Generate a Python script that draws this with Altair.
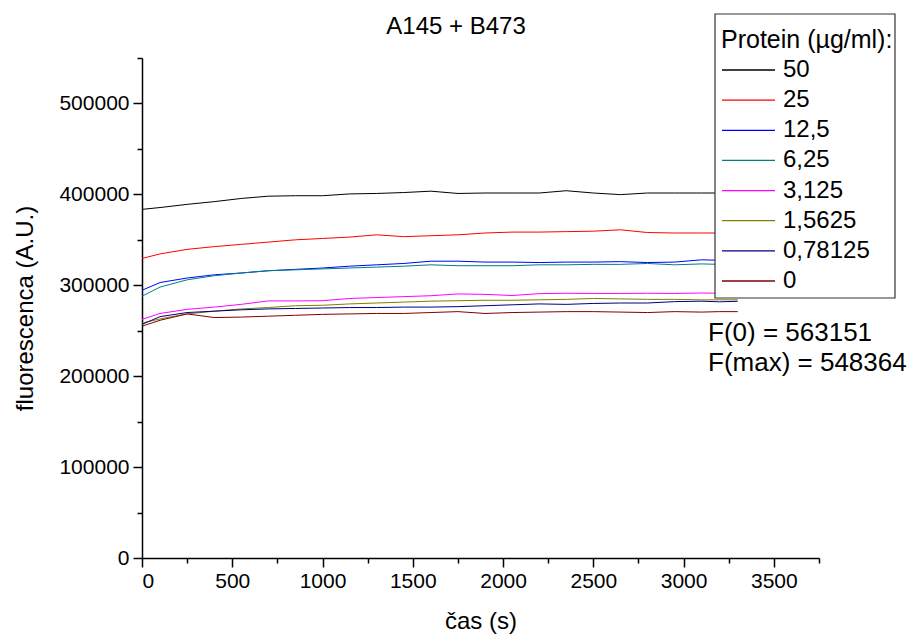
import altair as alt
import pandas as pd

times = [0, 100, 250, 400, 550, 700, 850, 1000, 1150, 1300, 1450, 1600,
         1750, 1900, 2050, 2200, 2350, 2500, 2650, 2800, 2950, 3100, 3200, 3300]

series_labels = ["50", "25", "12,5", "6,25", "3,125", "1,5625", "0,78125", "0"]
series_colors = ["#000000", "#FF0000", "#0000FF", "#008080", "#FF00FF", "#808000", "#000080", "#800000"]

v_50 = [383500, 385500, 389000, 392000, 395500, 398000, 398500, 398500, 400500, 401000, 402000, 403500,
        401000, 401500, 401500, 401500, 404000, 401500, 399700, 401500, 401500, 401500, 401500, 401500]
v_25 = [329500, 334500, 339500, 342500, 345000, 347500, 350000, 351500, 353000, 355500, 353500, 354500,
        355500, 357500, 358500, 358500, 359000, 359500, 361000, 358000, 357500, 357500, 357500, 357500]
v_12_5 = [294500, 303000, 308000, 311500, 313500, 316000, 317500, 319000, 321000, 322500, 324000, 326500,
          326500, 325500, 325500, 325000, 325500, 325500, 326000, 325000, 325500, 328000, 327500, 327500]
v_6_25 = [288000, 298000, 306000, 310500, 313500, 316000, 317000, 318000, 319000, 320000, 321000, 322500,
          321500, 321500, 321500, 322500, 322500, 323000, 323000, 324000, 322500, 323500, 323000, 323000]
v_3_125 = [262500, 269000, 273500, 276000, 279000, 282800, 282800, 283000, 285500, 286500, 287500, 288500,
           290500, 290000, 288700, 290800, 291200, 291000, 291000, 291200, 291000, 291500, 291200, 291200]
v_1_5625 = [258500, 263000, 268500, 271500, 274000, 275500, 277500, 278000, 279500, 280500, 281500, 282500,
            283000, 283500, 283500, 284000, 284500, 285500, 285000, 284500, 284500, 284000, 284000, 284000]
v_0_78125 = [257000, 265500, 270000, 271500, 273000, 274000, 274500, 275000, 275500, 275500, 276000, 276000,
             276500, 277500, 278500, 279500, 279000, 280000, 280500, 280500, 282000, 282500, 281800, 282400]
v_0 = [255000, 261500, 268500, 264500, 265000, 266000, 267000, 268000, 268500, 269000, 269000, 270000,
       271000, 269000, 270000, 270500, 271000, 271000, 270500, 270000, 271000, 270500, 271000, 271000]

all_values = [v_50, v_25, v_12_5, v_6_25, v_3_125, v_1_5625, v_0_78125, v_0]

rows = []
for lab, vals in zip(series_labels, all_values):
    for t, v in zip(times, vals):
        rows.append({"t": t, "F": v, "protein": lab})
df = pd.DataFrame(rows)

legend_df = pd.DataFrame({"protein": series_labels, "idx": list(range(len(series_labels)))})
annot = pd.DataFrame({"txt": ["F(0) = 563151", "F(max) = 548364"], "row": [0, 1]})
title_df = pd.DataFrame({"txt": ["A145 + B473"]})
legend_title_df = pd.DataFrame({"txt": ["Protein (µg/ml):"]})

FONT = "Liberation Sans"

x_ticks = list(range(0, 3751, 250))
y_ticks = list(range(0, 550001, 50000))

color_scale = alt.Scale(domain=series_labels, range=series_colors)

lines = alt.Chart(df).mark_line(strokeWidth=1, clip=True).encode(
    x=alt.X("t:Q", title="čas (s)",
            scale=alt.Scale(domain=[0, 3750], nice=False, zero=False),
            axis=alt.Axis(values=x_ticks, format="d",
                          labelExpr="datum.value % 500 === 0 ? datum.label : ''",
                          tickSize={"expr": "datum.value % 500 === 0 ? 9 : 5"},
                          labelPadding=3, titlePadding=18)),
    y=alt.Y("F:Q", title="fluorescenca (A.U.)",
            scale=alt.Scale(domain=[0, 550000], nice=False),
            axis=alt.Axis(values=y_ticks, format="d",
                          labelExpr="datum.value % 100000 === 0 ? datum.label : ''",
                          tickSize={"expr": "datum.value % 100000 === 0 ? 9 : 5"},
                          labelPadding=4, titlePadding=21)),
    color=alt.Color("protein:N", scale=color_scale, legend=None),
)

# legend box (drawn over the lines, as in the original)
legend_box = alt.Chart(title_df).mark_rect(fill="white", stroke="#333333", strokeWidth=1.2).encode(
    x=alt.value(573), x2=alt.value(753), y=alt.value(-44), y2=alt.value(240),
)
legend_title = alt.Chart(legend_title_df).mark_text(align="left", baseline="middle", font=FONT,
                                                    fontSize=25, color="black").encode(
    x=alt.value(579), y=alt.value(-18), text="txt:N",
)
row_y = alt.Y("idx:Q", scale=alt.Scale(domain=[0, 7], range=[12, 223]), axis=None)
legend_sym = alt.Chart(legend_df).mark_rule(strokeWidth=1.3).encode(
    x=alt.value(580), x2=alt.value(633), y=row_y,
    color=alt.Color("protein:N", scale=color_scale, legend=None),
)
legend_lab = alt.Chart(legend_df).mark_text(align="left", baseline="middle", font=FONT,
                                            fontSize=24, color="black").encode(
    x=alt.value(641), y=row_y, text="protein:N",
)

texts = alt.Chart(annot).mark_text(align="left", baseline="middle", font=FONT,
                                    fontSize=26, color="black").encode(
    x=alt.value(566),
    y=alt.Y("row:Q", scale=alt.Scale(domain=[0, 1], range=[275, 305]), axis=None),
    text="txt:N",
)

title_txt = alt.Chart(title_df).mark_text(align="center", baseline="middle", font=FONT,
                                          fontSize=24, color="black").encode(
    x=alt.value(314), y=alt.value(-31), text="txt:N",
)

chart = alt.layer(lines, legend_box, legend_title, legend_sym, legend_lab, texts, title_txt).resolve_scale(
    y="independent"
).properties(
    width=677, height=500,
    background="white",
    autosize=alt.AutoSizeParams(type="none"),
    padding={"left": 142, "top": 58, "right": 94, "bottom": 77},
).configure_view(stroke=None).configure_axis(
    grid=False, domainColor="black", domainWidth=1.5, tickColor="black", tickWidth=1.5,
    labelFont=FONT, labelFontSize=21, labelColor="black",
    titleFont=FONT, titleFontSize=24, titleFontWeight="normal", titleColor="black",
)

chart.save("out.html", embed_options={"renderer": "svg", "actions": False})
